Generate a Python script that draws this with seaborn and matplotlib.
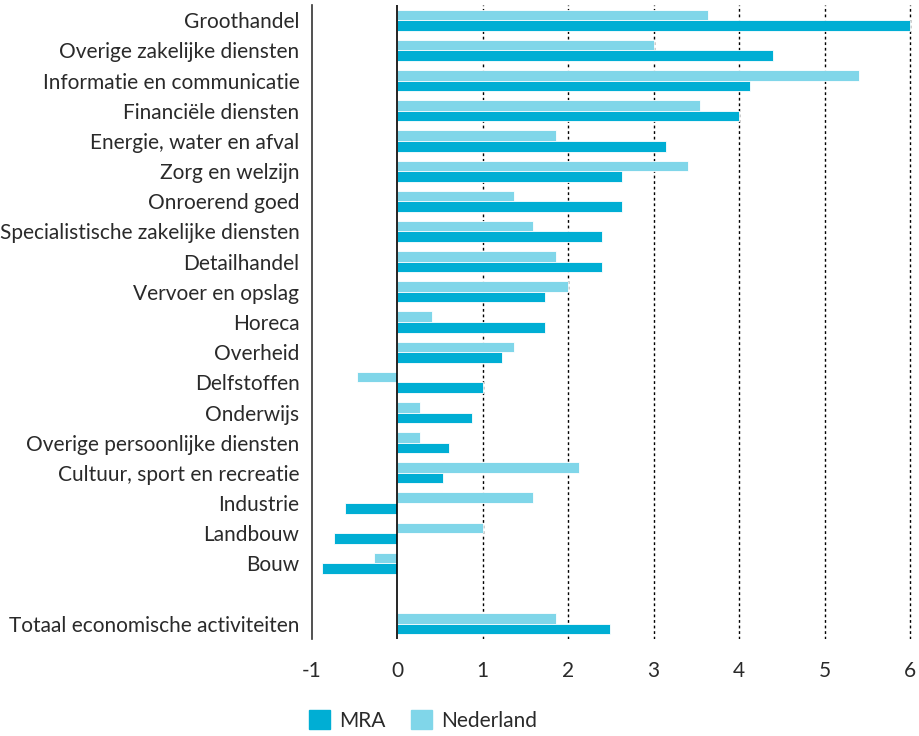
import pandas as pd
import seaborn as sns
import matplotlib.pyplot as plt
from matplotlib.patches import Patch

sectors = [
    'Groothandel', 'Overige zakelijke diensten', 'Informatie en communicatie',
    'Financiële diensten', 'Energie, water en afval', 'Zorg en welzijn',
    'Onroerend goed', 'Specialistische zakelijke diensten', 'Detailhandel',
    'Vervoer en opslag', 'Horeca', 'Overheid', 'Delfstoffen', 'Onderwijs',
    'Overige persoonlijke diensten', 'Cultuur, sport en recreatie',
    'Industrie', 'Landbouw', 'Bouw', ' ', 'Totaal economische activiteiten',
]
mra = [6.0, 4.40, 4.13, 4.0, 3.14, 2.63, 2.63, 2.40, 2.40, 1.73, 1.73, 1.23,
       1.0, 0.87, 0.60, 0.53, -0.61, -0.74, -0.88, None, 2.49]
nederland = [3.63, 3.0, 5.40, 3.54, 1.86, 3.40, 1.37, 1.59, 1.86, 2.0, 0.40,
             1.37, -0.47, 0.27, 0.27, 2.13, 1.59, 1.0, -0.27, None, 1.86]
x_ticks = [-1, 0, 1, 2, 3, 4, 5, 6]

colors = {'MRA': '#00aed4', 'Nederland': '#80d6e9'}
text_color = '#2a2a2a'


def main():
    df = pd.DataFrame({'Sector': sectors, 'MRA': mra, 'Nederland': nederland})
    long = df.melt(id_vars='Sector', var_name='Regio', value_name='Waarde').dropna()

    sns.set_theme(style='white')
    plt.rcParams['font.family'] = ['Lato', 'DejaVu Sans']
    plt.rcParams['text.color'] = text_color
    plt.rcParams['xtick.color'] = text_color
    plt.rcParams['ytick.color'] = text_color

    fig, ax = plt.subplots(figsize=(9.2, 7.36), dpi=100)
    fig.subplots_adjust(left=0.339, right=0.991, top=0.993, bottom=0.132)

    sns.barplot(data=long, y='Sector', x='Waarde', hue='Regio', order=sectors,
                hue_order=['Nederland', 'MRA'], palette=colors, orient='h',
                saturation=1, width=0.7, edgecolor='white', linewidth=0.6,
                ax=ax, legend=False)

    ax.set_xlim(-1, 6.02)
    ax.set_ylim(len(sectors) - 0.5, -0.5)
    ax.set_xticks(x_ticks)
    ax.set_xticklabels([str(t) for t in x_ticks], fontsize=15)
    ax.tick_params(axis='y', labelsize=15, length=0, pad=9)
    ax.tick_params(axis='x', length=0, pad=16)
    ax.set_xlabel('')
    ax.set_ylabel('')

    # dotted gridlines right of zero, solid zero line
    for t in x_ticks[2:]:
        ax.axvline(t, color='black', linestyle=(0, (2, 2)), linewidth=1, zorder=0)
    ax.axvline(0, color='black', linewidth=1.2, zorder=3)

    for side in ['top', 'right', 'bottom']:
        ax.spines[side].set_visible(False)
    ax.spines['left'].set_color('#333333')
    ax.spines['left'].set_linewidth(1.2)

    handles = [Patch(color=colors['MRA'], label='MRA'),
               Patch(color=colors['Nederland'], label='Nederland')]
    fig.legend(handles=handles, loc='center left', bbox_to_anchor=(0.336, 0.021),
               ncol=2, frameon=False, fontsize=15, handlelength=1.0,
               handleheight=1.05, handletextpad=0.45, columnspacing=1.2,
               borderpad=0, borderaxespad=0)

    plt.savefig('out.png', dpi=100)


if __name__ == '__main__':
    main()
